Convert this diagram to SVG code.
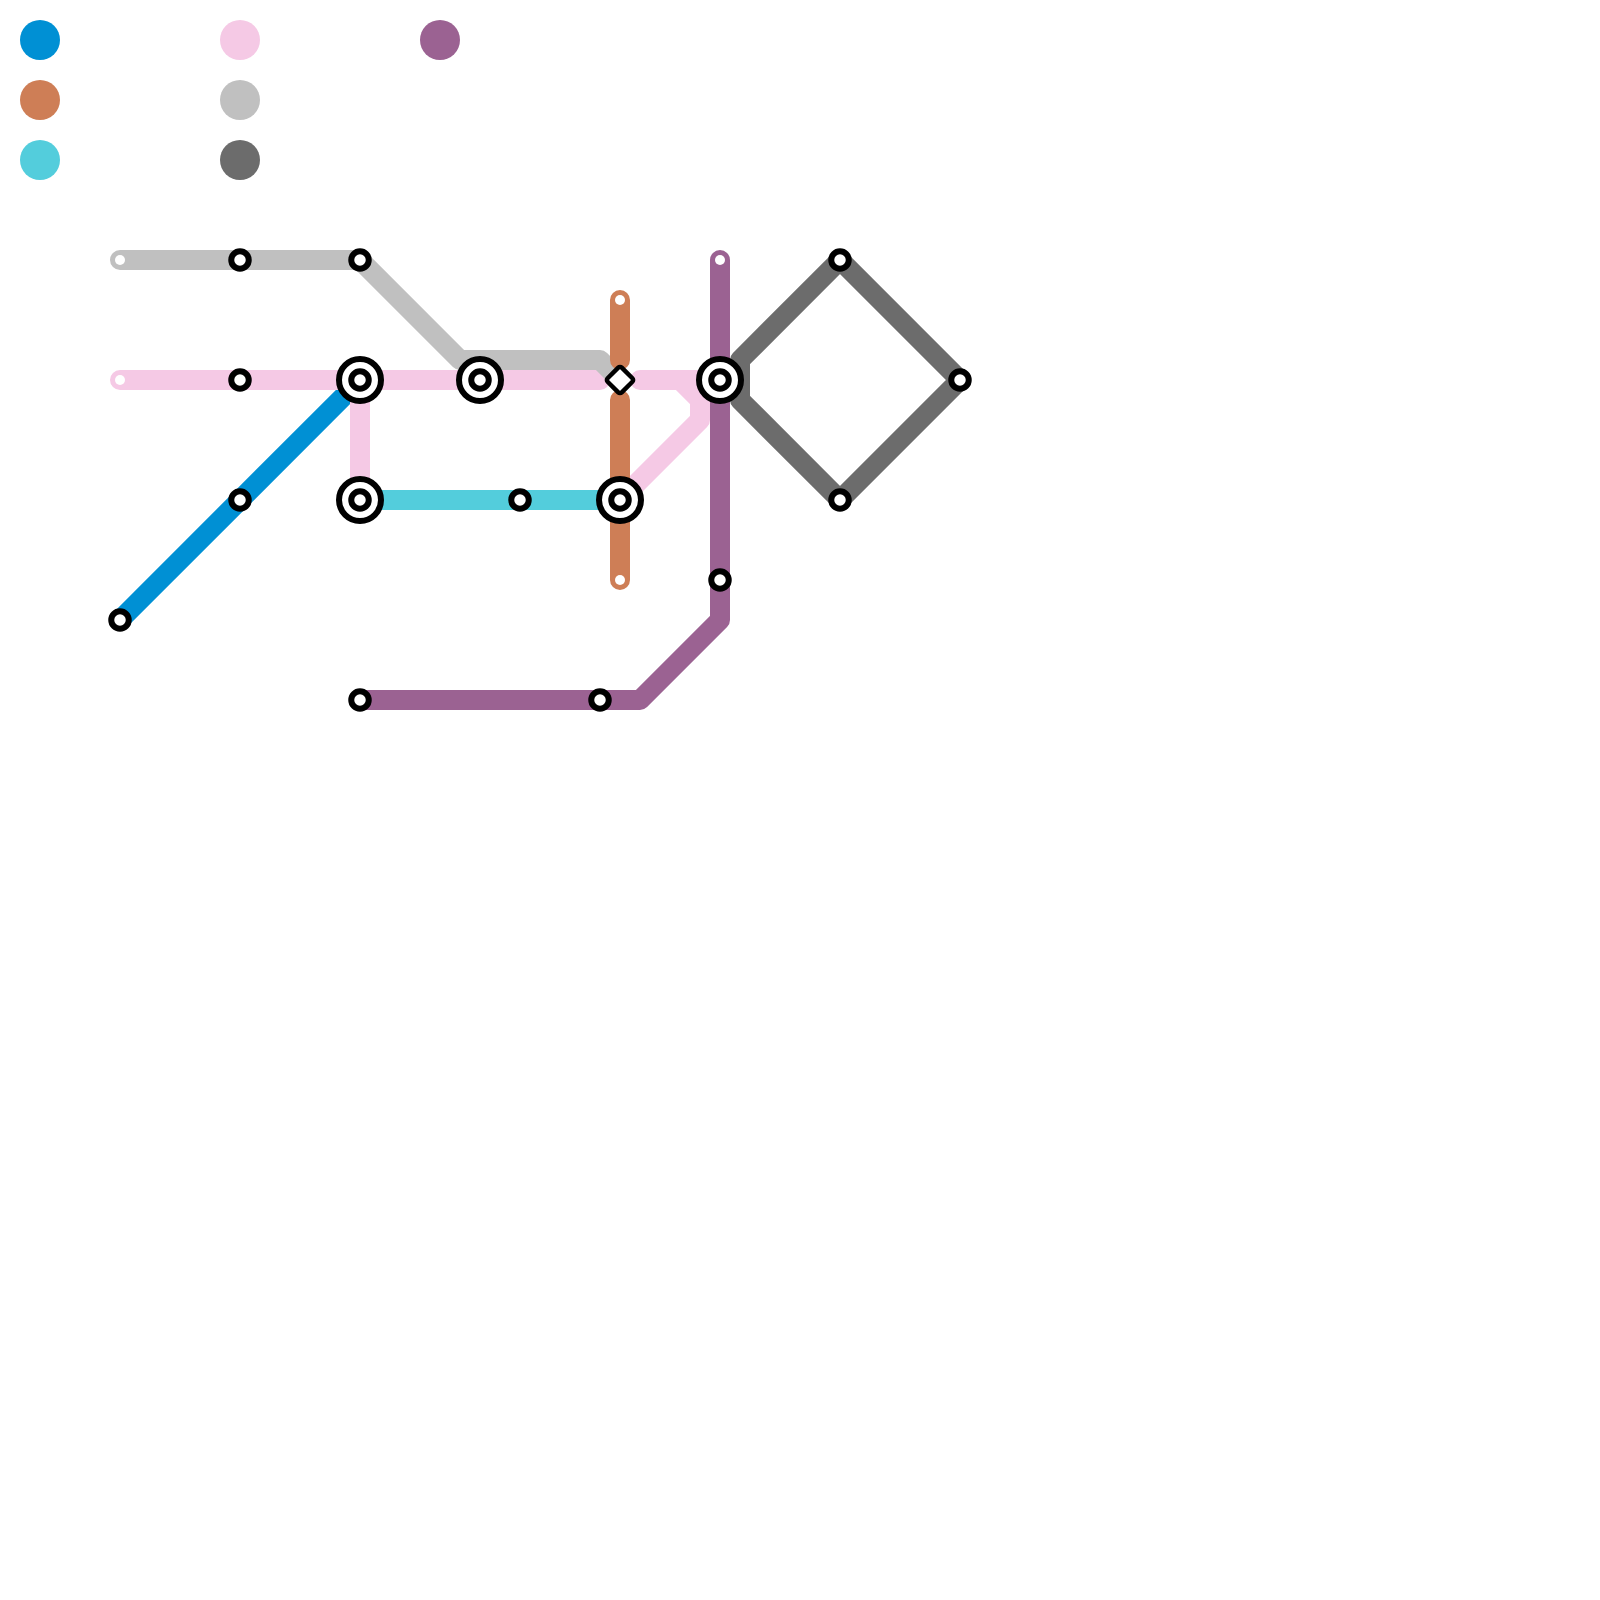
<svg xmlns="http://www.w3.org/2000/svg" width="1600" height="1600" viewBox="0 0 1600 1600">
<style>
.l{fill:none;stroke-width:20;stroke-linecap:round;stroke-linejoin:round}
.blue{stroke:#0090d4}.orange{stroke:#ce7e56}.cyan{stroke:#53cddc}.pink{stroke:#f5c9e5}.lgray{stroke:#c0c0c0}.dgray{stroke:#6c6c6c}.purple{stroke:#9b6292}
.s{fill:#fff;stroke:#000;stroke-width:6}
.o{fill:#fff;stroke:#000;stroke-width:6}
.t{fill:#fff}
</style>
<defs>
<g id="stn"><circle class="s" r="8.75"/></g>
<g id="int"><circle class="o" r="21"/><circle class="s" r="8.75"/></g>
<g id="end"><circle class="t" r="5"/></g>
</defs>
<rect width="1600" height="1600" fill="#fff"/>
<g id="legend">
<circle cx="40" cy="40" r="20" fill="#0090d4"/>
<circle cx="40" cy="100" r="20" fill="#ce7e56"/>
<circle cx="40" cy="160" r="20" fill="#53cddc"/>
<circle cx="240" cy="40" r="20" fill="#f5c9e5"/>
<circle cx="240" cy="100" r="20" fill="#c0c0c0"/>
<circle cx="240" cy="160" r="20" fill="#6c6c6c"/>
<circle cx="440" cy="40" r="20" fill="#9b6292"/>
</g>
<g id="connectors">
<path class="l blue" d="M120 620L360 380"/>
<path class="l pink" d="M120 380H600M640 380H720M360 380V500M680 380L700 400V420L620 500"/>
<path class="l lgray" d="M120 260H360L460 360H600L620 380"/>
<path class="l orange" d="M620 300V360M620 400V580"/>
<path class="l cyan" d="M360 500H620"/>
<path class="l purple" d="M720 260V620L640 700H360"/>
<path class="l dgray" d="M840 260L740 360V400L840 500L960 380Z"/>
</g>
<g id="n1"><use href="#end" x="120" y="260"/></g>
<g id="n2"><use href="#stn" x="240" y="260"/></g>
<g id="n3"><use href="#stn" x="360" y="260"/></g>
<g id="n4"><use href="#end" x="120" y="380"/></g>
<g id="n5"><use href="#stn" x="240" y="380"/></g>
<g id="n6"><use href="#int" x="360" y="380"/></g>
<g id="n7"><use href="#int" x="480" y="380"/></g>
<g id="n8"><rect x="-10" y="-10" width="20" height="20" rx="2.5" transform="translate(620 380) rotate(45)" fill="#fff" stroke="#000" stroke-width="4.5"/></g>
<g id="n9"><use href="#int" x="720" y="380"/></g>
<g id="n10"><use href="#stn" x="120" y="620"/></g>
<g id="n11"><use href="#stn" x="240" y="500"/></g>
<g id="n12"><use href="#int" x="360" y="500"/></g>
<g id="n13"><use href="#stn" x="520" y="500"/></g>
<g id="n14"><use href="#int" x="620" y="500"/></g>
<g id="n15"><use href="#end" x="620" y="300"/></g>
<g id="n16"><use href="#end" x="620" y="580"/></g>
<g id="n17"><use href="#end" x="720" y="260"/></g>
<g id="n18"><use href="#stn" x="720" y="580"/></g>
<g id="n19"><use href="#stn" x="600" y="700"/></g>
<g id="n20"><use href="#stn" x="360" y="700"/></g>
<g id="n21"><use href="#stn" x="840" y="260"/></g>
<g id="n22"><use href="#stn" x="960" y="380"/></g>
<g id="n23"><use href="#stn" x="840" y="500"/></g>
</svg>
